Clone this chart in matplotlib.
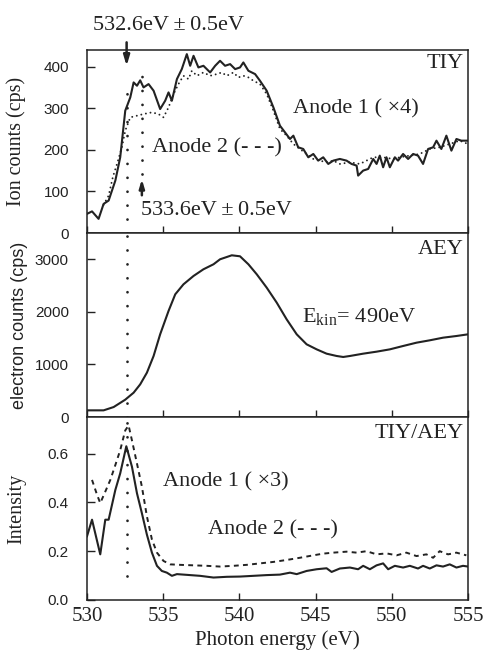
import matplotlib
matplotlib.use("Agg")
import matplotlib.pyplot as plt

plt.rcParams['font.family'] = ['Liberation Serif', 'DejaVu Serif']
plt.rcParams['mathtext.fontset'] = 'stix'

# TIY panel, anode 1 (x4), solid
tiy1_x = [530.00, 530.33, 530.76, 531.09, 531.42, 531.86, 532.18, 532.51, 532.84, 533.06,
          533.28, 533.49, 533.71, 534.04, 534.37, 534.80, 535.13, 535.35, 535.57, 535.90,
          536.22, 536.55, 536.77, 536.99, 537.31, 537.64, 538.08, 538.41, 538.73, 539.06,
          539.39, 539.72, 540.04, 540.26, 540.59, 541.03, 541.35, 541.79, 542.23, 542.66,
          542.99, 543.32, 543.54, 543.86, 544.19, 544.52, 544.85, 545.17, 545.50, 545.83,
          546.16, 546.59, 547.03, 547.36, 547.69, 547.79, 548.12, 548.45, 548.78, 549.00,
          549.21, 549.43, 549.65, 549.87, 550.20, 550.41, 550.74, 551.07, 551.40, 551.72,
          552.05, 552.38, 552.71, 552.93, 553.25, 553.58, 553.91, 554.24, 554.56, 555.00]
tiy1_y = [46, 52, 34, 70, 78, 126, 182, 294, 326, 362,
          354, 367, 350, 358, 342, 298, 318, 338, 318, 370,
          394, 430, 402, 426, 398, 402, 386, 402, 414, 402,
          406, 394, 398, 410, 390, 382, 366, 342, 302, 258,
          242, 226, 234, 206, 202, 182, 190, 174, 182, 166,
          174, 178, 174, 166, 162, 138, 150, 154, 178, 166,
          186, 158, 182, 158, 182, 174, 190, 178, 190, 186,
          166, 202, 206, 222, 202, 234, 198, 226, 222, 222]

# TIY panel, anode 2, dotted
tiy2_x = [531.09, 531.42, 531.70, 531.97, 532.29, 532.51, 532.84, 533.28, 533.71, 534.26,
          534.69, 535.02, 535.35, 535.68, 536.00, 536.33, 536.66, 536.88, 537.21, 537.64,
          538.08, 538.52, 538.84, 539.17, 539.61, 539.93, 540.26, 540.59, 540.92, 541.35,
          541.79, 542.23, 542.66, 543.10, 543.54, 543.97, 544.41, 544.85, 545.28, 545.72,
          546.16, 546.59, 547.25, 547.90, 548.34, 548.78, 549.43, 550.09, 550.52, 551.18,
          551.83, 552.49, 553.14, 553.80, 554.45, 555.00]
tiy2_y = [68, 90, 135, 166, 206, 246, 278, 282, 286, 290,
          286, 278, 302, 334, 358, 378, 370, 390, 378, 386,
          378, 382, 386, 378, 386, 374, 378, 374, 366, 358,
          334, 294, 250, 234, 214, 202, 190, 178, 174, 170,
          174, 166, 170, 166, 174, 182, 182, 178, 182, 186,
          190, 202, 206, 214, 222, 214]

# AEY panel
aey_x = [530.00, 531.09, 531.75, 532.51, 533.06, 533.49, 533.93, 534.37, 534.80, 535.35,
         535.79, 536.33, 536.99, 537.64, 538.30, 538.73, 539.50, 540.04, 540.59, 541.14,
         541.79, 542.45, 543.10, 543.76, 544.41, 545.07, 545.72, 546.38, 546.81, 547.25,
         548.12, 549.00, 549.87, 550.74, 551.62, 552.49, 553.36, 554.24, 555.00]
aey_y = [127, 127, 190, 330, 463, 621, 843, 1161, 1573, 2017,
         2334, 2524, 2683, 2810, 2905, 3000, 3076, 3057, 2905, 2714,
         2461, 2175, 1858, 1573, 1383, 1287, 1205, 1161, 1142, 1161,
         1205, 1243, 1287, 1351, 1414, 1459, 1509, 1541, 1573]

# TIY/AEY panel, anode 1 (x3), solid
ratio1_x = [530.00, 530.33, 530.87, 531.20, 531.42, 531.86, 532.18, 532.58, 532.95, 533.28,
            533.60, 533.93, 534.26, 534.59, 534.91, 535.24, 535.57, 535.90, 536.55, 537.42,
            538.30, 539.17, 540.04, 540.92, 541.79, 542.66, 543.32, 543.76, 544.41, 545.07,
            545.72, 546.05, 546.59, 547.25, 547.79, 548.12, 548.56, 549.00, 549.43, 549.76,
            550.20, 550.74, 551.18, 551.72, 552.05, 552.49, 552.93, 553.36, 553.80, 554.24,
            554.67, 555.00]
ratio1_y = [0.261, 0.329, 0.187, 0.329, 0.329, 0.451, 0.519, 0.630, 0.546, 0.437,
            0.356, 0.268, 0.194, 0.140, 0.119, 0.112, 0.099, 0.106, 0.103, 0.099,
            0.092, 0.095, 0.096, 0.099, 0.102, 0.104, 0.112, 0.106, 0.119, 0.126,
            0.130, 0.115, 0.129, 0.133, 0.126, 0.140, 0.126, 0.142, 0.150, 0.126,
            0.140, 0.133, 0.140, 0.129, 0.140, 0.129, 0.142, 0.137, 0.146, 0.133,
            0.140, 0.137]

# TIY/AEY panel, anode 2, dashed
ratio2_x = [530.33, 530.66, 530.87, 531.20, 531.53, 531.86, 532.18, 532.51, 532.73, 532.95,
            533.28, 533.60, 533.93, 534.26, 534.59, 535.02, 535.46, 536.11, 536.99, 537.86,
            538.73, 539.61, 540.48, 541.35, 542.23, 543.10, 543.97, 544.85, 545.50, 546.16,
            547.03, 547.69, 548.34, 549.00, 549.65, 550.31, 550.96, 551.62, 552.27, 552.71,
            553.14, 553.69, 554.24, 554.89]
ratio2_y = [0.492, 0.431, 0.397, 0.444, 0.492, 0.553, 0.614, 0.695, 0.715, 0.654,
            0.559, 0.465, 0.343, 0.248, 0.194, 0.160, 0.146, 0.144, 0.142, 0.140,
            0.137, 0.140, 0.144, 0.150, 0.156, 0.164, 0.173, 0.183, 0.190, 0.194,
            0.198, 0.194, 0.200, 0.187, 0.191, 0.183, 0.194, 0.180, 0.187, 0.173,
            0.200, 0.187, 0.194, 0.183]

x_ticks = [530, 535, 540, 545, 550, 555]
tiy_ticks = [0, 100, 200, 300, 400]
aey_ticks = [0, 1000, 2000, 3000]
ratio_ticks = [0.0, 0.2, 0.4, 0.6]
peak1 = 532.6
peak2 = 533.6

ink = '#222222'
sans = ['Liberation Sans Narrow', 'Liberation Sans', 'DejaVu Sans']
serif = ['Liberation Serif', 'DejaVu Serif']
# round dots for the marker lines
dots_big = (0, (0.01, 5.0))
vline_kw = dict(color=ink, lw=2.0, linestyle=dots_big, dash_capstyle='round')

fig = plt.figure(figsize=(4.86, 6.61), dpi=100)
ax1 = fig.add_axes([0.179, 0.6475, 0.784, 0.2769])
ax2 = fig.add_axes([0.179, 0.3691, 0.784, 0.2784])
ax3 = fig.add_axes([0.179, 0.0923, 0.784, 0.2769])

for ax in (ax1, ax2, ax3):
    ax.set_xlim(530, 555)
    ax.set_xticks(x_ticks)
    ax.tick_params(axis='x', direction='in', length=5, width=1, colors=ink, labelsize=15, pad=5)
    ax.tick_params(axis='y', direction='in', length=6, width=1, colors=ink, pad=13)
    for s in ax.spines.values():
        s.set_linewidth(1.1)
        s.set_color(ink)

ax1.set_xticklabels([])
ax2.set_xticklabels([])

# top: TIY
ax1.plot(tiy1_x, tiy1_y, color=ink, lw=1.5)
ax1.plot(tiy2_x, tiy2_y, color=ink, lw=1.4, linestyle=(0, (0.01, 2.4)), dash_capstyle='round')
ax1.set_ylim(0, 440)
ax1.set_yticks(tiy_ticks)
ax1.set_yticklabels([str(v) for v in tiy_ticks], fontfamily=sans, fontsize=11)
ax1.set_ylabel('Ion counts (cps)', fontsize=14.5, color=ink)
ax1.yaxis.set_label_coords(-0.16, 0.5)
ax1.axvline(peak1, ymin=0, ymax=0.80, **vline_kw)
ax1.axvline(peak2, ymin=0.32, ymax=0.925, **vline_kw)
ax1.annotate('', xy=(peak1, 395), xytext=(peak1, 465), annotation_clip=False,
             arrowprops=dict(arrowstyle='-|>,head_length=0.6,head_width=0.18', color=ink, lw=1.8))
ax1.annotate('', xy=(peak2, 136), xytext=(peak2, 84), annotation_clip=False,
             arrowprops=dict(arrowstyle='-|>,head_length=0.5,head_width=0.15', color=ink, lw=1.8))
ax1.text(535.38, 499, '532.6eV\u2009\u00b1\u20090.5eV', fontsize=16, color=ink,
         ha='center', va='center', clip_on=False)
ax1.text(538.5, 55, '533.6eV\u2009\u00b1\u20090.5eV', fontsize=16, color=ink, ha='center', va='center')
ax1.text(554.7, 407, 'TIY', fontsize=16, color=ink, ha='right', va='center')
ax1.text(547.65, 299, 'Anode 1 ( \u00d74)', fontsize=16, color=ink, ha='center', va='center')
ax1.text(538.5, 205, 'Anode 2 (- - -)', fontsize=16, color=ink, ha='center', va='center')

# middle: AEY
ax2.plot(aey_x, aey_y, color=ink, lw=1.5)
ax2.set_ylim(0, 3500)
ax2.set_yticks(aey_ticks)
ax2.set_yticklabels([str(v) for v in aey_ticks], fontfamily=sans, fontsize=11)
ax2.set_ylabel('electron counts (cps)', fontsize=13, fontfamily=['Liberation Sans', 'DejaVu Sans'], color=ink)
ax2.yaxis.set_label_coords(-0.155, 0.5)
ax2.axvline(peak1, **vline_kw)
ax2.text(554.7, 3195, 'AEY', fontsize=16, color=ink, ha='right', va='center')
ax2.text(547.85, 1921, r'E$_{\mathregular{kin}}$= 490eV', fontsize=16, color=ink, ha='center', va='center')

# bottom: TIY/AEY
ax3.plot(ratio1_x, ratio1_y, color=ink, lw=1.5)
ax3.plot(ratio2_x, ratio2_y, color=ink, lw=1.4, linestyle=(0, (2.5, 2.2)))
ax3.set_ylim(0, 0.75)
ax3.set_yticks(ratio_ticks)
ax3.set_yticklabels(['%.1f' % v for v in ratio_ticks], fontfamily=sans, fontsize=11)
ax3.set_xticklabels([str(v) for v in x_ticks], fontfamily=serif)
ax3.set_ylabel('Intensity', fontsize=14.5, color=ink)
ax3.yaxis.set_label_coords(-0.16, 0.5)
ax3.set_xlabel('Photon energy (eV)', fontsize=15, color=ink)
ax3.xaxis.set_label_coords(0.5, -0.165)
ax3.axvline(peak1, ymin=0.13, ymax=1, **vline_kw)
ax3.text(554.7, 0.682, 'TIY/AEY', fontsize=16, color=ink, ha='right', va='center')
ax3.text(539.1, 0.483, 'Anode 1 ( \u00d73)', fontsize=16, color=ink, ha='center', va='center')
ax3.text(542.2, 0.288, 'Anode 2 (- - -)', fontsize=16, color=ink, ha='center', va='center')

fig.savefig('out.png', dpi=100)
